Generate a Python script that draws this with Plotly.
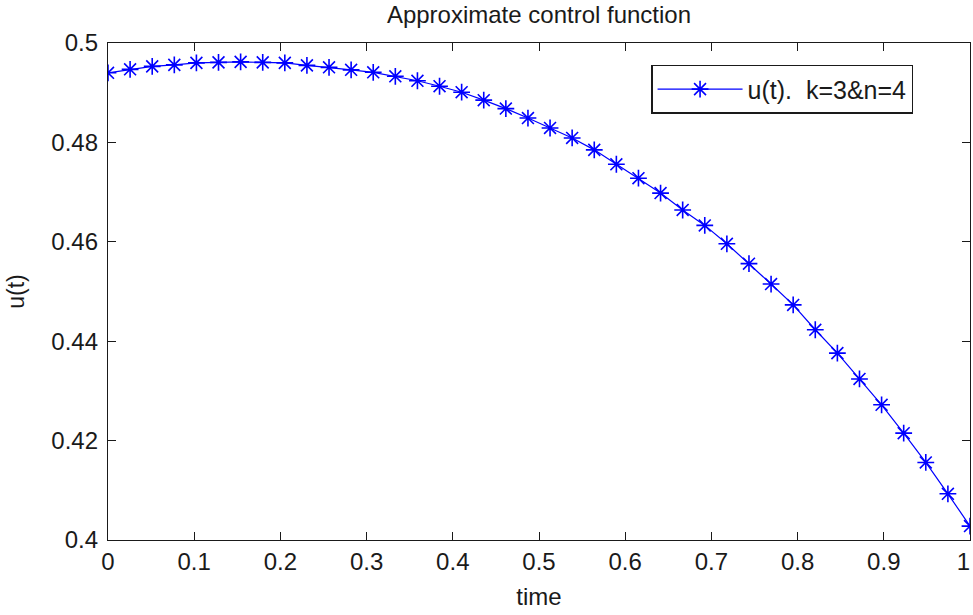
import numpy as np
import plotly.graph_objects as go

# Data (40 equally spaced time points on [0, 1])
time = np.linspace(0, 1, 40)
u_values = [
    0.4940, 0.4947, 0.4953, 0.4956, 0.4960, 0.4961, 0.4962, 0.4961, 0.4960, 0.4955,
    0.4951, 0.4946, 0.4941, 0.4933, 0.4924, 0.4913, 0.4901, 0.4885, 0.4868, 0.4849,
    0.4829, 0.4809, 0.4785, 0.4756, 0.4728, 0.4698, 0.4664, 0.4633, 0.4596, 0.4556,
    0.4515, 0.4473, 0.4423, 0.4376, 0.4324, 0.4272, 0.4215, 0.4156, 0.4093, 0.4028,
]
x_tick_vals = [0, 0.1, 0.2, 0.3, 0.4, 0.5, 0.6, 0.7, 0.8, 0.9, 1.0]
x_tick_labels = ["0", "0.1", "0.2", "0.3", "0.4", "0.5", "0.6", "0.7", "0.8", "0.9",
                 "1\u00a0\u00a0"]
series_name = "u(t).  k=3&n=4"
title_text = "Approximate control function"
x_label = "time"
y_label = "u(t)"

FONT = "Liberation Sans, Arial, sans-serif"
TXT = "#1a1a1a"

fig = go.Figure()
fig.add_trace(go.Scatter(
    x=time, y=u_values, mode="lines+markers", name=series_name,
    line=dict(color="#0000ff", width=1.2),
    marker=dict(symbol="asterisk-open", size=14, color="#0000ff",
                line=dict(color="#0000ff", width=1.6)),
))

axis_common = dict(
    showline=True, mirror="ticks", linecolor="#1a1a1a", linewidth=1.3,
    ticks="inside", ticklen=8, tickwidth=1.3, tickcolor="#1a1a1a",
    showgrid=False, zeroline=False, automargin=False,
    ticklabeloverflow="allow",
    tickfont=dict(family=FONT, size=24, color=TXT),
)

fig.update_layout(
    width=973, height=615,
    margin=dict(l=108, r=3, t=43, b=75),
    paper_bgcolor="white", plot_bgcolor="white",
    title=dict(text=title_text, x=0.5, xref="paper", xanchor="center",
               y=1 - 15 / 615, yref="container", yanchor="middle",
               font=dict(family=FONT, size=24, color=TXT)),
    xaxis=dict(range=[0, 1], tickmode="array", tickvals=x_tick_vals,
               ticktext=x_tick_labels,
               title=dict(text=x_label, standoff=14,
                          font=dict(family=FONT, size=24, color=TXT)),
               **axis_common),
    yaxis=dict(range=[0.4, 0.5], tick0=0.4, dtick=0.02,
               ticklabelstandoff=4,
               title=dict(text=y_label, standoff=20,
                          font=dict(family=FONT, size=23, color=TXT)),
               **axis_common),
    showlegend=True,
    legend=dict(x=0.63, y=0.956, xanchor="left", yanchor="top",
                bgcolor="white", bordercolor="#1a1a1a", borderwidth=1.5,
                font=dict(family=FONT, size=25, color=TXT),
                itemwidth=85),
)

fig.write_html("out.html", config={"displayModeBar": False},
               post_script="document.body.style.margin='0';")
